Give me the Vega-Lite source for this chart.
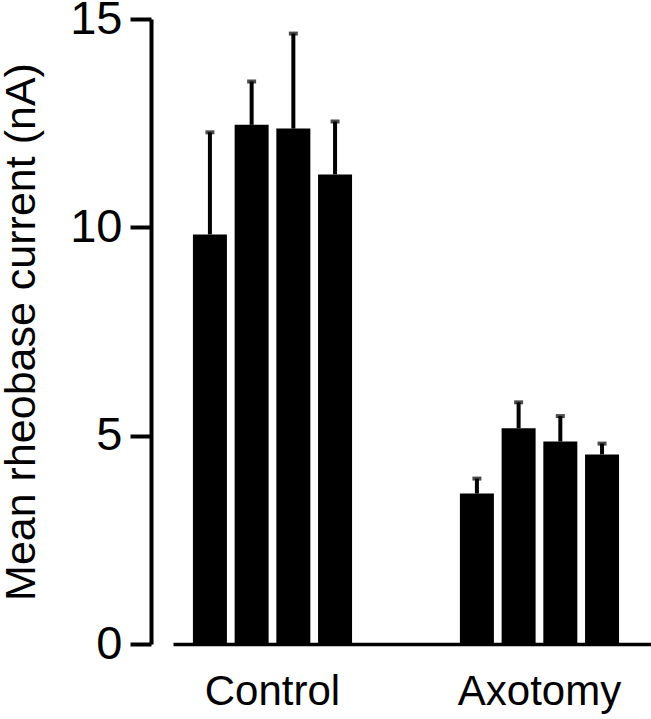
{
  "$schema": "https://vega.github.io/schema/vega-lite/v6.json",
  "width": 478,
  "height": 625,
  "autosize": {"type": "none"},
  "padding": {"left": 173, "top": 19, "right": 0, "bottom": 75},
  "background": "white",
  "config": {
    "view": {"stroke": null},
    "font": "Liberation Sans"
  },
  "data": {
    "values": [
      {"group": "Control", "bar": 1, "mean": 9.83, "err": 12.28},
      {"group": "Control", "bar": 2, "mean": 12.46, "err": 13.50},
      {"group": "Control", "bar": 3, "mean": 12.37, "err": 14.65},
      {"group": "Control", "bar": 4, "mean": 11.27, "err": 12.54},
      {"group": "Axotomy", "bar": 1, "mean": 3.61, "err": 3.97},
      {"group": "Axotomy", "bar": 2, "mean": 5.18, "err": 5.80},
      {"group": "Axotomy", "bar": 3, "mean": 4.86, "err": 5.47},
      {"group": "Axotomy", "bar": 4, "mean": 4.55, "err": 4.81}
    ]
  },
  "encoding": {
    "x": {
      "field": "group",
      "type": "nominal",
      "sort": ["Control", "Axotomy"],
      "scale": {"paddingInner": 0.404, "paddingOuter": 0.0972, "align": 0.384},
      "axis": {
        "title": null,
        "labelAngle": 0,
        "ticks": false,
        "domainColor": "black",
        "domainWidth": 3.5,
        "labelFontSize": 42,
        "labelColor": "black",
        "labelPadding": 27,
        "labelFont": "Liberation Sans"
      }
    },
    "xOffset": {
      "field": "bar",
      "type": "ordinal",
      "scale": {"paddingInner": 0.185, "paddingOuter": 0}
    }
  },
  "layer": [
    {
      "mark": {"type": "bar", "color": "black"},
      "encoding": {
        "y": {
          "field": "mean",
          "type": "quantitative",
          "scale": {"domain": [0, 15], "nice": false},
          "axis": {
            "title": "Mean rheobase current (nA)",
            "titleFontSize": 43,
            "titleFontWeight": "normal",
            "titleColor": "black",
            "titlePadding": 26,
            "titleFont": "Liberation Sans",
            "values": [0, 5, 10, 15],
            "grid": false,
            "offset": 22,
            "domainColor": "black",
            "domainWidth": 4,
            "tickColor": "black",
            "tickWidth": 4,
            "tickSize": 21,
            "labelFontSize": 47,
            "labelColor": "black",
            "labelPadding": 8,
            "labelFont": "Liberation Sans"
          }
        }
      }
    },
    {
      "mark": {"type": "rule", "color": "black", "strokeWidth": 4},
      "encoding": {
        "y": {"field": "mean", "type": "quantitative"},
        "y2": {"field": "err"}
      }
    },
    {
      "mark": {"type": "tick", "color": "black", "orient": "horizontal", "size": 9, "thickness": 4},
      "encoding": {
        "y": {"field": "err", "type": "quantitative"}
      }
    }
  ]
}
